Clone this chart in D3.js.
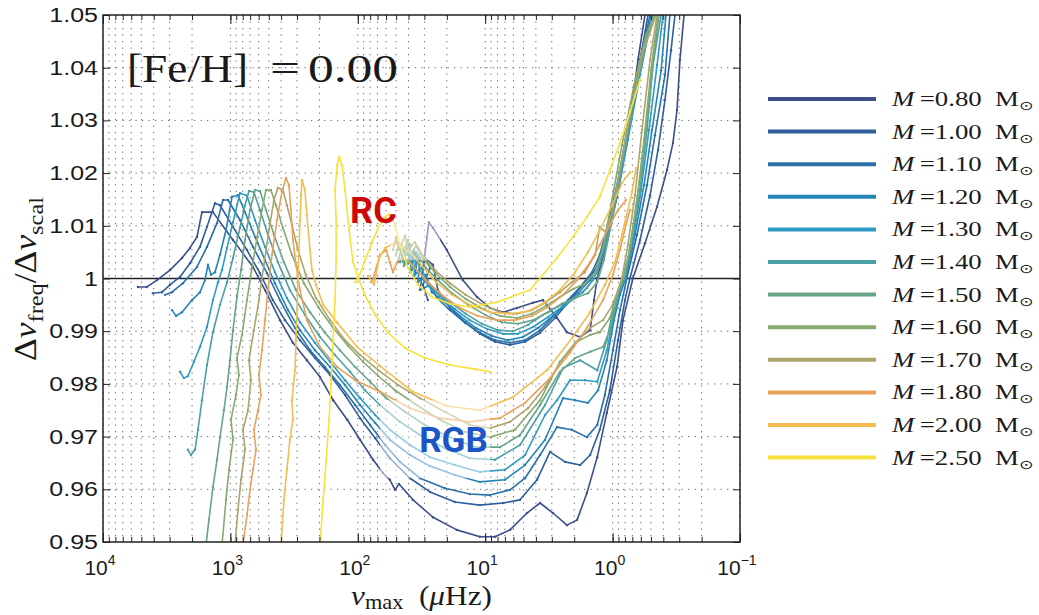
<!DOCTYPE html>
<html lang="en">
<head>
<meta charset="UTF-8">
<title>Dnu ratio vs numax</title>
<style>
  body { margin: 0; background: #fff; }
  svg { display: block; }
</style>
</head>
<body>
<script src="https://d3js.org/d3.v7.min.js"></script>
<script>
// stellar masses (Msun) and line colours, same order as the legend
var masses = [0.80, 1.00, 1.10, 1.20, 1.30, 1.40, 1.50, 1.60, 1.70, 1.80, 2.00, 2.50];
var colors = ["#3c4e8b", "#2f5e9d", "#2a70a9", "#2584b6", "#2f9ac3", "#4c9fa4",
              "#67a589", "#86aa70", "#aca56b", "#e9a25c", "#f3be4f", "#f8e23b"];

var xMajor = [1e4, 1e3, 1e2, 1e1, 1, 1e-1];
var xMajorExp = ["4", "3", "2", "1", "0", "\u22121"];
var yTicks = [0.95, 0.96, 0.97, 0.98, 0.99, 1.00, 1.01, 1.02, 1.03, 1.04, 1.05];
var yTickLabels = ["0.95", "0.96", "0.97", "0.98", "0.99", "1", "1.01", "1.02", "1.03", "1.04", "1.05"];

// tracks: [numax (muHz), dnu_freq / dnu_scal]
// *_rgb = MS end, subgiant, red giant branch ; *_agb = clump and later
var m080_rgb = [[5318,0.9984],[4515,0.9984],[3769,0.9997],[2979,1.0016],[2399,1.0039],[2076,1.0058],[1829,1.0079],[1672,1.0126],[1371,1.0126],[954,1.0073],[665,1.0022],[535,0.9978],[408,0.9921],[323,0.9878],[251,0.9845],[198,0.9813],[156,0.9769],[121,0.9732],[96,0.9694],[75.8,0.9656],[63.5,0.9631],[56,0.9618],[51,0.9599],[47.5,0.9610],[36.9,0.9580],[25.7,0.9547],[16.7,0.9523],[11.0,0.9510],[8.38,0.9510],[6.39,0.9523],[4.70,0.9555],[3.71,0.9574],[2.94,0.9555],[2.28,0.9532],[1.90,0.9542],[1.59,0.9593],[1.32,0.9661],[1.11,0.9745],[0.923,0.9832],[0.829,0.9921],[0.692,1.0001],[0.557,1.0067],[0.448,1.0136],[0.374,1.0206],[0.336,1.0257],[0.312,1.0320],[0.296,1.0415],[0.275,1.0500]];
var m080_agb = [[30.3,1.0031],[28.7,1.0077],[27.7,1.0107],[25.7,1.0096],[20.0,1.0054],[15.0,0.9997],[11.6,0.9965],[9.17,0.9944],[7.26,0.9936],[5.63,0.9944],[4.22,0.9954],[3.52,0.9959],[2.73,0.9925],[2.28,0.9898],[1.80,0.9889],[1.50,0.9902],[1.40,0.9959],[1.32,1.0001],[1.11,1.0067],[0.923,1.0155],[0.772,1.0257],[0.632,1.0415],[0.557,1.0500]];

var m100_rgb = [[4053,0.9972],[3443,0.9974],[2979,0.9988],[2487,1.0003],[2076,1.0029],[1733,1.0060],[1527,1.0098],[1321,1.0143],[1207,1.0139],[954,1.0098],[741,1.0054],[586,1.0010],[464,0.9959],[373,0.9921],[284,0.9883],[217,0.9849],[165,0.9817],[126,0.9779],[96,0.9735],[73,0.9697],[56,0.9659],[38.9,0.9621],[27.1,0.9595],[17.3,0.9576],[11.0,0.9570],[7.26,0.9574],[5.33,0.9580],[3.92,0.9618],[3.10,0.9671],[2.36,0.9652],[1.80,0.9646],[1.50,0.9665],[1.26,0.9713],[1.05,0.9788],[0.907,0.9883],[0.80,0.9959],[0.730,1.0001],[0.609,1.0073],[0.508,1.0158],[0.440,1.0244],[0.388,1.0339],[0.348,1.0433],[0.324,1.0500]];
var m100_agb = [[28.2,0.9959],[30.8,0.9988],[27.1,1.0020],[29.7,1.0039],[25.7,1.0026],[23.5,0.9978],[18.9,0.9944],[14.4,0.9917],[11.0,0.9895],[8.38,0.9880],[6.39,0.9874],[4.87,0.9880],[3.71,0.9897],[2.83,0.9925],[2.16,0.9959],[1.71,0.9988],[1.37,1.0016],[1.19,1.0054],[1.05,1.0111],[0.875,1.0196],[0.730,1.0301],[0.609,1.0415],[0.527,1.0500]];

var m110_rgb = [[3260,0.9969],[2874,0.9974],[2357,0.9991],[1829,1.0022],[1527,1.0060],[1274,1.0105],[1144,1.0149],[1045,1.0149],[841,1.0111],[665,1.0060],[516,1.0010],[408,0.9959],[311,0.9906],[237,0.9864],[181,0.9832],[138,0.9798],[105,0.9760],[80,0.9722],[61,0.9684],[46.6,0.9652],[32.5,0.9621],[20.7,0.9602],[13.2,0.9591],[9.17,0.9589],[6.39,0.9599],[4.87,0.9621],[3.71,0.9665],[2.73,0.9718],[2.09,0.9713],[1.59,0.9699],[1.32,0.9722],[1.15,0.9779],[0.993,0.9864],[0.875,0.9940],[0.772,1.0001],[0.643,1.0083],[0.537,1.0177],[0.465,1.0272],[0.388,1.0386],[0.355,1.0500]];
var m110_agb = [[37.5,1.0031],[33.7,1.0045],[35.6,1.0007],[30.3,1.0026],[32.5,0.9978],[27.1,0.9988],[23.9,0.9963],[18.9,0.9940],[14.4,0.9916],[11.0,0.9897],[8.38,0.9883],[6.39,0.9878],[4.87,0.9883],[3.71,0.9902],[2.83,0.9931],[2.24,0.9959],[1.80,0.9984],[1.45,1.0012],[1.26,1.0045],[1.09,1.0102],[0.907,1.0187],[0.744,1.0301],[0.598,1.0424],[0.508,1.0500]];

var m120_rgb = [[2874,0.9940],[2673,0.9929],[2399,0.9936],[2003,0.9959],[1733,0.9974],[1583,0.9997],[1500,1.0026],[1420,1.0007],[1321,1.0012],[1207,1.0045],[1083,1.0092],[972,1.0155],[872,1.0158],[768,1.0126],[641,1.0079],[535,1.0035],[447,0.9991],[353,0.9940],[284,0.9902],[217,0.9864],[165,0.9832],[126,0.9798],[96,0.9760],[73,0.9726],[56,0.9694],[38.9,0.9665],[27.1,0.9644],[17.3,0.9627],[11.0,0.9614],[7.0,0.9618],[4.87,0.9646],[3.39,0.9694],[2.45,0.9773],[1.97,0.9769],[1.56,0.9764],[1.30,0.9788],[1.11,0.9845],[0.975,0.9921],[0.875,0.9969],[0.786,1.0001],[0.667,1.0083],[0.567,1.0177],[0.490,1.0282],[0.416,1.0395],[0.381,1.0500]];
var m120_agb = [[40.3,1.0045],[36.2,1.0054],[37.5,1.0016],[32.5,1.0039],[33.7,0.9993],[29.2,1.0007],[26.2,0.9974],[20.7,0.9955],[15.8,0.9929],[11.8,0.9906],[8.85,0.9891],[6.62,0.9883],[5.05,0.9889],[3.85,0.9906],[2.94,0.9929],[2.32,0.9950],[1.87,0.9972],[1.50,0.9997],[1.26,1.0031],[1.09,1.0083],[0.907,1.0168],[0.744,1.0282],[0.598,1.0405],[0.499,1.0500]];

var m130_rgb = [[2487,0.9823],[2316,0.9811],[2153,0.9815],[1933,0.9842],[1733,0.9870],[1527,0.9908],[1371,0.9959],[1252,0.9993],[1164,1.0016],[1063,1.0058],[954,1.0107],[841,1.0162],[741,1.0157],[641,1.0111],[535,1.0060],[447,1.0012],[360,0.9963],[284,0.9917],[217,0.9878],[165,0.9842],[126,0.9807],[96,0.9773],[73,0.9741],[56,0.9713],[38.9,0.9684],[27.1,0.9661],[17.3,0.9646],[11.0,0.9633],[7.0,0.9637],[4.87,0.9665],[3.39,0.9741],[2.73,0.9769],[2.16,0.9807],[1.65,0.9807],[1.32,0.9804],[1.11,0.9864],[0.975,0.9931],[0.875,0.9978],[0.80,1.0001],[0.692,1.0073],[0.598,1.0168],[0.518,1.0282],[0.448,1.0405],[0.402,1.0500]];
var m130_agb = [[43.4,1.0054],[38.9,1.0062],[40.3,1.0028],[34.9,1.0050],[36.2,1.0005],[31.4,1.0020],[28.2,0.9986],[22.6,0.9967],[17.3,0.9942],[13.2,0.9921],[9.65,0.9904],[7.26,0.9895],[5.53,0.9895],[4.22,0.9908],[3.21,0.9927],[2.50,0.9946],[1.97,0.9963],[1.59,0.9982],[1.32,1.0012],[1.13,1.0064],[0.940,1.0149],[0.758,1.0263],[0.609,1.0386],[0.490,1.0500]];

var m140_rgb = [[2153,0.9675],[2039,0.9665],[1896,0.9675],[1797,0.9713],[1672,0.9769],[1527,0.9836],[1371,0.9898],[1207,0.9950],[1063,0.9993],[954,1.0039],[841,1.0096],[768,1.0139],[715,1.0166],[654,1.0164],[586,1.0130],[507,1.0083],[424,1.0031],[341,0.9978],[260,0.9931],[198,0.9889],[151,0.9855],[115,0.9823],[88,0.9788],[67,0.9760],[46.6,0.9728],[32.5,0.9703],[20.7,0.9678],[13.2,0.9659],[8.38,0.9656],[5.33,0.9684],[3.39,0.9760],[2.45,0.9830],[1.80,0.9845],[1.32,0.9826],[1.11,0.9883],[0.975,0.9950],[0.875,0.9988],[0.80,1.0001],[0.704,1.0073],[0.609,1.0168],[0.537,1.0282],[0.482,1.0405],[0.416,1.0500]];
var m140_agb = [[46.6,1.0031],[42.6,1.0058],[43.4,1.0024],[37.5,1.0050],[38.9,1.0012],[33.7,1.0031],[30.3,0.9997],[24.8,0.9978],[18.9,0.9955],[14.2,0.9933],[10.6,0.9914],[7.94,0.9902],[6.05,0.9900],[4.61,0.9912],[3.52,0.9931],[2.73,0.9946],[2.16,0.9959],[1.71,0.9974],[1.42,0.9997],[1.26,1.0031],[1.09,1.0088],[0.907,1.0177],[0.730,1.0291],[0.588,1.0411],[0.482,1.0500]];

var m150_rgb = [[1555,0.9494],[1474,0.9542],[1371,0.9604],[1274,0.9656],[1207,0.9699],[1124,0.9750],[1063,0.9794],[1007,0.9845],[954,0.9902],[888,0.9965],[826,1.0016],[768,1.0073],[702,1.0130],[641,1.0168],[586,1.0166],[526,1.0130],[455,1.0083],[380,1.0031],[306,0.9978],[237,0.9936],[181,0.9897],[138,0.9864],[105,0.9832],[80,0.9804],[61,0.9775],[42.6,0.9747],[29.7,0.9722],[18.9,0.9699],[12.0,0.9680],[7.65,0.9680],[5.33,0.9703],[3.71,0.9760],[2.59,0.9823],[1.97,0.9849],[1.50,0.9861],[1.19,0.9870],[1.05,0.9902],[0.940,0.9959],[0.844,0.9997],[0.758,1.0039],[0.679,1.0111],[0.598,1.0206],[0.527,1.0320],[0.473,1.0424],[0.432,1.0500]];
var m150_agb = [[48.3,1.0031],[45.0,1.0062],[44.2,1.0031],[38.9,1.0065],[38.9,1.0031],[33.7,1.0045],[29.2,1.0020],[23.5,0.9997],[18.2,0.9972],[13.6,0.9950],[10.0,0.9931],[7.39,0.9917],[5.53,0.9914],[4.22,0.9921],[3.21,0.9936],[2.50,0.9952],[1.97,0.9963],[1.56,0.9972],[1.32,0.9993],[1.17,1.0035],[1.01,1.0111],[0.844,1.0225],[0.679,1.0348],[0.547,1.0452],[0.473,1.0500]];

var m160_rgb = [[1164,0.9494],[1083,0.9580],[1026,0.9637],[954,0.9694],[989,0.9732],[904,0.9779],[857,0.9817],[888,0.9849],[811,0.9893],[741,0.9959],[677,1.0020],[618,1.0077],[565,1.0130],[526,1.0168],[481,1.0168],[439,1.0139],[387,1.0096],[329,1.0045],[265,0.9991],[205,0.9946],[156,0.9906],[119,0.9872],[91,0.9842],[69.1,0.9815],[51,0.9788],[35.6,0.9762],[22.6,0.9732],[14.4,0.9709],[9.17,0.9699],[5.83,0.9713],[3.71,0.9769],[2.59,0.9842],[1.97,0.9878],[1.50,0.9893],[1.26,0.9898],[1.05,0.9925],[0.923,0.9969],[0.829,1.0001],[0.730,1.0054],[0.643,1.0149],[0.567,1.0263],[0.499,1.0395],[0.440,1.0500]];
var m160_agb = [[50.1,1.0045],[47.5,1.0069],[45.0,1.0043],[40.3,1.0073],[38.9,1.0043],[34.9,1.0062],[30.3,1.0035],[24.3,1.0009],[18.9,0.9984],[14.2,0.9961],[10.4,0.9942],[7.65,0.9929],[5.63,0.9925],[4.30,0.9933],[3.33,0.9948],[2.59,0.9965],[2.05,0.9980],[1.65,0.9990],[1.37,1.0012],[1.19,1.0058],[1.03,1.0139],[0.844,1.0253],[0.679,1.0367],[0.547,1.0462],[0.465,1.0500]];

var m170_rgb = [[920,0.9494],[872,0.9561],[826,0.9618],[768,0.9675],[797,0.9713],[728,0.9750],[690,0.9807],[715,0.9845],[654,0.9902],[597,0.9959],[546,1.0026],[498,1.0092],[455,1.0149],[424,1.0172],[387,1.0168],[360,1.0139],[329,1.0102],[295,1.0054],[256,1.0007],[213,0.9963],[165,0.9921],[126,0.9883],[96,0.9855],[69.1,0.9826],[48.3,0.9798],[32.5,0.9773],[20.7,0.9747],[13.2,0.9722],[9.17,0.9716],[6.39,0.9728],[4.61,0.9754],[3.39,0.9794],[2.50,0.9845],[1.87,0.9883],[1.50,0.9906],[1.19,0.9921],[1.01,0.9948],[0.907,0.9978],[0.844,1.0001],[0.758,1.0064],[0.667,1.0158],[0.588,1.0282],[0.508,1.0415],[0.448,1.0500]];
var m170_agb = [[53,1.0054],[50.1,1.0077],[47.5,1.0054],[42.6,1.0081],[40.3,1.0054],[35.6,1.0069],[30.8,1.0043],[24.8,1.0016],[18.9,0.9991],[14.2,0.9969],[10.4,0.9950],[7.65,0.9936],[5.63,0.9933],[4.30,0.9940],[3.33,0.9955],[2.59,0.9974],[2.09,0.9993],[1.65,1.0012],[1.37,1.0045],[1.26,1.0098],[1.13,1.0088],[1.01,1.0126],[0.875,1.0206],[0.730,1.0310],[0.588,1.0424],[0.456,1.0500]];

var m180_rgb = [[797,0.9494],[741,0.9551],[702,0.9599],[665,0.9637],[630,0.9675],[654,0.9713],[607,0.9750],[576,0.9779],[597,0.9817],[565,0.9864],[535,0.9921],[507,0.9978],[472,1.0045],[431,1.0111],[394,1.0164],[366,1.0191],[347,1.0177],[335,1.0130],[323,1.0073],[306,1.0026],[284,0.9978],[251,0.9921],[198,0.9870],[145,0.9832],[105,0.9807],[67,0.9785],[38.9,0.9754],[22.6,0.9735],[13.2,0.9728],[7.65,0.9735],[4.87,0.9764],[3.10,0.9811],[2.16,0.9859],[1.56,0.9910],[1.19,0.9959],[0.993,1.0007],[0.875,1.0054],[0.786,1.0102],[0.730,1.0130]];
var m180_agb = [[77.2,0.9993],[71.7,1.0020],[67,1.0045],[59.9,1.0054],[56,1.0031],[53,1.0012],[48.3,1.0035],[42.6,1.0039],[35.6,1.0020],[28.2,0.9993],[21.4,0.9967],[15.8,0.9944],[11.4,0.9929],[8.08,0.9921],[5.83,0.9921],[4.30,0.9929],[3.21,0.9946],[2.45,0.9969],[1.90,0.9997],[1.50,1.0031],[1.26,1.0064],[1.05,1.0102],[0.907,1.0130],[0.786,1.0149]];

var m200_rgb = [[401,0.9494],[380,0.9580],[360,0.9637],[341,0.9694],[323,0.9732],[329,0.9769],[311,0.9826],[306,0.9883],[300,0.9940],[295,0.9997],[290,1.0054],[284,1.0111],[279,1.0158],[274,1.0187],[260,1.0168],[251,1.0120],[237,1.0054],[229,1.0016],[213,0.9988],[187,0.9950],[145,0.9916],[101,0.9870],[67,0.9834],[36.9,0.9785],[20.0,0.9758],[11.0,0.9750],[6.05,0.9775],[3.27,0.9826],[2.05,0.9889],[1.50,0.9936],[1.15,0.9988],[0.957,1.0031],[0.80,1.0107],[0.704,1.0164],[0.655,1.0210]];
var m200_agb = [[83.3,1.0005],[74.5,0.9988],[67.9,1.0039],[61,1.0058],[54,1.0065],[46.6,1.0062],[38.9,1.0050],[31.4,1.0024],[24.3,0.9993],[18.2,0.9969],[13.2,0.9950],[9.17,0.9936],[6.39,0.9933],[4.61,0.9938],[3.39,0.9955],[2.59,0.9978],[1.97,1.0012],[1.56,1.0050],[1.26,1.0092],[1.01,1.0139],[0.844,1.0181],[0.730,1.0202]];

var m250_rgb = [[198,0.9494],[187,0.9580],[177,0.9656],[168,0.9732],[162,0.9807],[156,0.9883],[151,0.9959],[148,1.0035],[148,1.0111],[151,1.0168],[145,1.0215],[140,1.0231],[133,1.0215],[126,1.0168],[117,1.0092],[109,1.0031],[99,1.0001],[88,0.9969],[73,0.9931],[57.8,0.9897],[42.6,0.9868],[29.7,0.9849],[18.9,0.9836],[12.0,0.9828],[9.17,0.9823]];
var m250_agb = [[105,0.9993],[96,1.0009],[86.4,1.0039],[77.2,1.0069],[69.1,1.0096],[62.4,1.0115],[56.8,1.0122],[52.1,1.0107],[46.6,1.0064],[40.3,1.0020],[33.7,0.9988],[26.2,0.9965],[18.9,0.9952],[13.2,0.9946],[8.08,0.9955],[4.45,0.9978],[2.73,1.0039],[2.05,1.0079],[1.59,1.0117],[1.26,1.0155],[1.05,1.0206],[0.875,1.0257],[0.730,1.0316],[0.609,1.0377]];

var tracks = [
  [m080_rgb, m080_agb], [m100_rgb, m100_agb], [m110_rgb, m110_agb], [m120_rgb, m120_agb],
  [m130_rgb, m130_agb], [m140_rgb, m140_agb], [m150_rgb, m150_agb], [m160_rgb, m160_agb],
  [m170_rgb, m170_agb], [m180_rgb, m180_agb], [m200_rgb, m200_agb], [m250_rgb, m250_agb]
];

var W = 1039, H = 615;
var margin = {top: 15, right: 299, bottom: 73, left: 103},
    width = W - margin.left - margin.right,
    height = H - margin.top - margin.bottom;

var x = d3.scaleLog().domain([1e4, 1e-1]).range([0, width]);
var y = d3.scaleLinear().domain([0.95, 1.05]).range([height, 0]);

var svg = d3.select('body').append('svg')
    .attr('width', W)
    .attr('height', H);

svg.append('defs').append('clipPath').attr('id', 'plotclip')
  .append('rect').attr('width', width).attr('height', height);

var g = svg.append('g')
    .attr('transform', 'translate(' + margin.left + ',' + margin.top + ')');

// dotted grid
var xMinor = x.ticks();
g.append('g').selectAll('line')
    .data(xMinor)
  .enter().append('line')
    .attr('x1', function(d) { return x(d); })
    .attr('x2', function(d) { return x(d); })
    .attr('y1', 0).attr('y2', height)
    .attr('stroke', '#6a6a6a')
    .attr('stroke-width', 1)
    .attr('stroke-dasharray', '1.3,5.2');

g.append('g').selectAll('line')
    .data(yTicks.filter(function(d) { return d > 0.951 && d < 1.049 && Math.abs(d - 1) > 1e-6; }))
  .enter().append('line')
    .attr('x1', 0).attr('x2', width)
    .attr('y1', function(d) { return y(d); })
    .attr('y2', function(d) { return y(d); })
    .attr('stroke', '#6a6a6a')
    .attr('stroke-width', 1)
    .attr('stroke-dasharray', '1.3,5.2');

// reference line at 1
g.append('line')
    .attr('x1', 0).attr('x2', width)
    .attr('y1', y(1)).attr('y2', y(1))
    .attr('stroke', '#222').attr('stroke-width', 1.3);

// tracks
var line = d3.line()
    .x(function(d) { return x(d[0]); })
    .y(function(d) { return y(d[1]); });

var plot = g.append('g').attr('clip-path', 'url(#plotclip)');

tracks.forEach(function(parts, i) {
  var tg = plot.append('g');
  parts.forEach(function(pts) {
    tg.append('path')
        .datum(pts)
        .attr('d', line)
        .attr('fill', 'none')
        .attr('stroke', colors[i])
        .attr('stroke-width', 1.6)
        .attr('stroke-linejoin', 'round');
    tg.selectAll(null)
        .data(pts)
      .enter().append('circle')
        .attr('cx', function(d) { return x(d[0]); })
        .attr('cy', function(d) { return y(d[1]); })
        .attr('r', 1.2)
        .attr('fill', colors[i]);
  });
});

// washed-out patches behind the branch labels
plot.append('rect')
    .attr('x', x(67)).attr('y', y(0.9769))
    .attr('width', x(9.17) - x(67)).attr('height', y(0.9621) - y(0.9769))
    .attr('fill', '#fff').attr('opacity', 0.5);
plot.append('rect')
    .attr('x', x(56)).attr('y', y(1.0115))
    .attr('width', x(22.6) - x(56)).attr('height', y(1.0035) - y(1.0115))
    .attr('fill', '#fff').attr('opacity', 0.45);

// axes (ticks inside, MATLAB style)
function noDomain(sel) { sel.select('.domain').remove(); sel.selectAll('text').remove(); }

g.append('g').attr('transform', 'translate(0,' + height + ')')
    .call(d3.axisBottom(x).tickValues(xMinor).tickSize(-5).tickFormat(''))
    .call(noDomain);
g.append('g').attr('transform', 'translate(0,' + height + ')')
    .call(d3.axisBottom(x).tickValues(xMajor).tickSize(-9).tickFormat(''))
    .call(noDomain);
g.append('g')
    .call(d3.axisTop(x).tickValues(xMinor).tickSize(-5).tickFormat(''))
    .call(noDomain);
g.append('g')
    .call(d3.axisTop(x).tickValues(xMajor).tickSize(-9).tickFormat(''))
    .call(noDomain);
g.append('g')
    .call(d3.axisLeft(y).tickValues(yTicks).tickSize(-7).tickFormat(''))
    .call(noDomain);
g.append('g').attr('transform', 'translate(' + width + ',0)')
    .call(d3.axisRight(y).tickValues(yTicks).tickSize(-7).tickFormat(''))
    .call(noDomain);
g.selectAll('.tick line').attr('stroke', '#222');

g.append('rect')
    .attr('width', width).attr('height', height)
    .attr('fill', 'none').attr('stroke', '#222').attr('stroke-width', 1.5);

// tick labels
g.append('g').selectAll('text')
    .data(yTicks)
  .enter().append('text')
    .attr('transform', function(d) { return 'translate(-5,' + (y(d) + 7) + ') scale(1.25,1)'; })
    .attr('text-anchor', 'end')
    .style('font-family', '"Liberation Sans", Arial, sans-serif')
    .style('font-size', '20px')
    .attr('fill', '#1a1a1a')
    .text(function(d, i) { return yTickLabels[i]; });

var xl = g.append('g').selectAll('text')
    .data(xMajor)
  .enter().append('text')
    .attr('x', function(d) { return x(d) - 3; })
    .attr('y', height + 33)
    .attr('text-anchor', 'middle')
    .style('font-family', '"Liberation Sans", Arial, sans-serif')
    .style('font-size', '21px')
    .attr('fill', '#1a1a1a');
xl.append('tspan').text('10');
xl.append('tspan').attr('dy', -10).style('font-size', '14px')
    .text(function(d, i) { return xMajorExp[i]; });

// stretch helper for the LaTeX-like texts
function stretchTo(sel, tx, ty, w, rot) {
  var bw = sel.node().getBBox().width;
  sel.attr('transform', 'translate(' + tx + ',' + ty + ')' + (rot ? ' rotate(' + rot + ')' : '') +
      ' scale(' + (w / bw) + ',1)');
}

var serif = '"Liberation Serif", "Times New Roman", serif';

// axis titles
var xt = svg.append('text')
    .style('font-family', serif).style('font-size', '28px').attr('fill', '#1a1a1a');
xt.append('tspan').style('font-style', 'italic').text('\u03bd');
xt.append('tspan').attr('dy', 4).style('font-size', '20px').text('max');
xt.append('tspan').attr('dy', -4).text('\u2002(');
xt.append('tspan').style('font-style', 'italic').text('\u03bc');
xt.append('tspan').text('Hz)');
stretchTo(xt, 351, 605, 141);

var yt = svg.append('text')
    .attr('text-anchor', 'middle')
    .style('font-family', serif).style('font-size', '32px').attr('fill', '#1a1a1a');
yt.append('tspan').text('\u0394');
yt.append('tspan').style('font-style', 'italic').text('\u03bd');
yt.append('tspan').attr('dy', 7).style('font-size', '22px').text('freq');
yt.append('tspan').attr('dy', -7).text('/\u0394');
yt.append('tspan').style('font-style', 'italic').text('\u03bd');
yt.append('tspan').attr('dy', 7).style('font-size', '22px').text('scal');
stretchTo(yt, 36, 279, 164, -90);

// metallicity label
[['[Fe/H]', 127, 121], ['=', 270, 30], ['0.00', 308, 90]].forEach(function(p) {
  svg.append('text')
      .attr('x', p[1]).attr('y', 82)
      .attr('textLength', p[2]).attr('lengthAdjust', 'spacingAndGlyphs')
      .style('font-family', serif).style('font-size', '40px').attr('fill', '#1a1a1a')
      .text(p[0]);
});

// branch labels
svg.append('text')
    .attr('x', x(115) + margin.left).attr('y', 223)
    .style('font-family', 'Roboto, "Noto Sans", sans-serif').style('font-weight', 700)
    .style('font-size', '36px').attr('fill', '#cc0a0a')
    .text('RC');
svg.append('text')
    .attr('x', x(33) + margin.left).attr('y', 452)
    .style('font-family', 'Roboto, "Noto Sans", sans-serif').style('font-weight', 700)
    .style('font-size', '35px').attr('fill', '#1b56c9')
    .text('RGB');

// legend
var legend = svg.append('g');
masses.forEach(function(m, i) {
  var ly = 99 + i * 32.6;
  legend.append('line')
      .attr('x1', 768).attr('x2', 876)
      .attr('y1', ly).attr('y2', ly)
      .attr('stroke', colors[i]).attr('stroke-width', 4);
  var t = legend.append('text')
      .style('font-family', serif).style('font-size', '20px').attr('fill', '#1a1a1a');
  t.append('tspan').style('font-style', 'italic').text('M');
  t.append('tspan').text('\u2009=' + m.toFixed(2) + '\u2002M');
  t.append('tspan').attr('dy', 4).style('font-size', '13px')
      .style('font-family', '"DejaVu Sans", sans-serif').text('\u2299');
  stretchTo(t, 892, ly + 7, 143);
});
</script>
